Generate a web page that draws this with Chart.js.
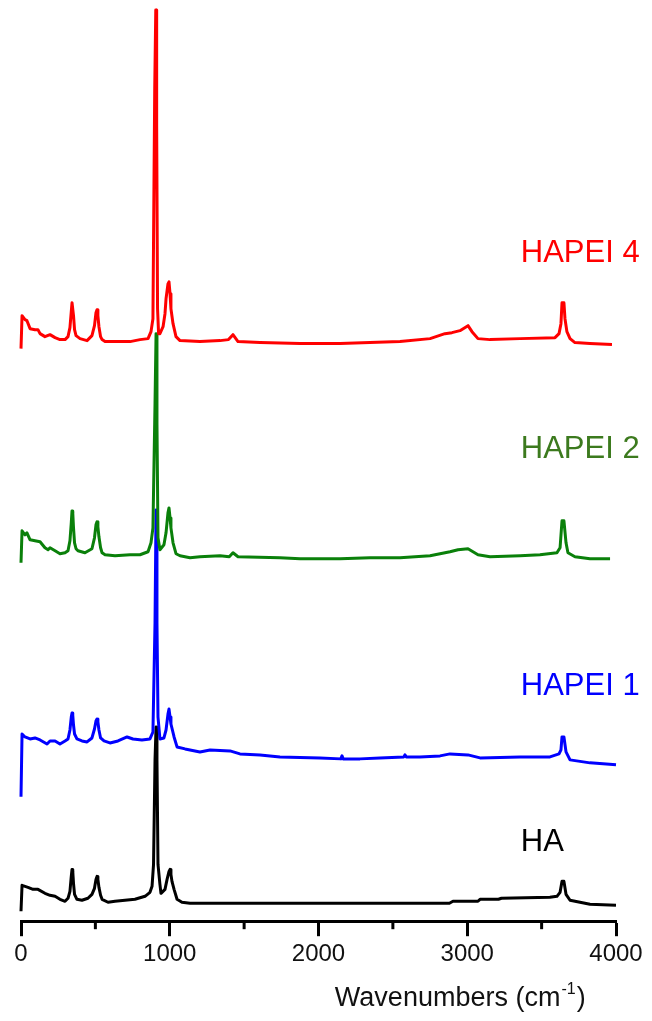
<!DOCTYPE html>
<html lang="en">
<head>
  <meta charset="UTF-8">
  <title>Raman spectra HA / HAPEI</title>
  <script src="https://cdn.jsdelivr.net/npm/chart.js"></script>
  <style>
    body {
      margin: 0;
      background: #fff;
    }
    #wrap {
      width: 652px;
      height: 1021px;
    }
  </style>
</head>
<body>
  <div id="wrap">
    <canvas id="ramanChart" width="652" height="1021"></canvas>
  </div>

  <script>
    // wavenumber (cm-1) / offset intensity
    const p4X = [0, 7, 27, 40, 61, 94, 114, 128, 161, 195,
      229, 262, 296, 316, 329, 338, 343, 348, 353, 360,
      370, 397, 444, 477, 494, 504, 511, 517, 524, 535,
      545, 565, 632, 733, 800, 854, 874, 887, 899, 906,
      910, 912, 918, 925, 934, 955, 968, 975, 988, 995,
      1002, 1008, 1022, 1042, 1069, 1203, 1338, 1395, 1425, 1459,
      1607, 1876, 2145, 2346, 2548, 2750, 2850, 2897, 2951, 3005,
      3032, 3072, 3153, 3355, 3590, 3617, 3630, 3637, 3650, 3657,
      3670, 3691, 3724, 3825, 3973];
    const p4Y = [575, 608, 604, 603, 595, 594, 594, 590, 587, 589,
      586, 584, 584, 587, 596, 612, 621, 621, 608, 594,
      588, 585, 583, 588, 598, 611, 614, 608, 597, 587,
      584, 582, 582, 582, 584, 585, 592, 605, 836, 915,
      915, 800, 615, 590, 590, 597, 610, 625, 640, 642,
      630, 615, 600, 587, 583, 582, 583, 584, 589, 582,
      581, 580, 580, 581, 582, 585, 590, 591, 593, 598,
      592, 585, 584, 585, 586, 590, 600, 621, 621, 605,
      592, 585, 581, 580, 579];

    const p2X = [0, 7, 27, 40, 61, 94, 128, 161, 182, 195,
      229, 262, 296, 316, 329, 338, 343, 348, 353, 360,
      370, 383, 430, 477, 494, 504, 511, 517, 524, 535,
      545, 565, 632, 733, 800, 854, 874, 887, 901, 908,
      914, 921, 934, 961, 975, 988, 995, 1002, 1008, 1022,
      1042, 1069, 1136, 1203, 1338, 1400, 1425, 1459, 1741, 1876,
      2145, 2346, 2548, 2750, 2817, 2884, 2938, 3005, 3072, 3153,
      3355, 3489, 3603, 3624, 3637, 3650, 3664, 3677, 3724, 3825,
      3960];
    const p2Y = [360, 392, 388, 390, 383, 382, 381, 375, 373, 375,
      372, 369, 370, 372, 382, 400, 412, 410, 395, 380,
      374, 372, 370, 374, 385, 398, 401, 396, 386, 375,
      370, 368, 367, 368, 368, 371, 380, 395, 520, 590,
      500, 385, 373, 378, 390, 410, 415, 405, 395, 380,
      369, 367, 365, 366, 367, 366, 370, 366, 365, 364,
      364, 365, 365, 367, 369, 371, 373, 374, 368, 366,
      367, 368, 370, 375, 402, 402, 380, 370, 366, 364,
      364];

    const p1X = [0, 7, 27, 61, 94, 128, 175, 195, 229, 262,
      296, 316, 329, 338, 343, 348, 353, 360, 376, 410,
      444, 477, 494, 504, 511, 517, 524, 535, 558, 598,
      652, 713, 753, 813, 867, 887, 901, 908, 914, 921,
      934, 961, 975, 988, 995, 1002, 1008, 1029, 1049, 1103,
      1203, 1271, 1405, 1472, 1607, 1741, 2010, 2150, 2158, 2166,
      2279, 2413, 2574, 2581, 2590, 2682, 2817, 2884, 3005, 3086,
      3355, 3556, 3617, 3630, 3637, 3650, 3664, 3691, 3825, 4000];
    const p1Y = [125, 188, 185, 183, 184, 182, 178, 181, 181, 178,
      181, 183, 192, 205, 209, 207, 197, 188, 183, 181,
      180, 184, 193, 201, 203, 200, 192, 184, 181, 179,
      181, 185, 183, 182, 183, 190, 300, 413, 300, 205,
      183, 184, 192, 208, 213, 205, 198, 185, 175, 173,
      170, 172, 171, 168, 167, 165, 164, 163, 166, 163,
      163, 164, 165, 167, 165, 165, 166, 168, 167, 164,
      165, 165, 168, 172, 185, 185, 170, 162, 159, 157];

    const haX = [0, 7, 27, 47, 81, 114, 161, 195, 229, 262,
      296, 316, 329, 338, 343, 348, 353, 360, 376, 410,
      450, 477, 494, 504, 511, 517, 524, 535, 545, 585,
      632, 699, 766, 834, 867, 881, 891, 901, 908, 914,
      921, 934, 941, 968, 982, 995, 1002, 1008, 1015, 1029,
      1049, 1082, 1136, 2880, 2904, 3072, 3086, 3210, 3230, 3556,
      3603, 3624, 3637, 3650, 3664, 3691, 3825, 4000];
    const haY = [10, 36, 35, 34, 32, 32, 28, 26, 25, 22,
      20, 23, 30, 45, 52, 50, 38, 27, 22, 21,
      23, 27, 33, 42, 45, 42, 34, 26, 22, 19,
      20, 21, 22, 25, 29, 35, 57, 162, 195, 162,
      57, 37, 28, 32, 42, 50, 52, 47, 40, 32,
      22, 19, 18, 18, 20, 20, 22, 22, 23, 24,
      25, 29, 40, 40, 27, 21, 17, 16];

    const seriesNames = ['HAPEI 4', 'HAPEI 2', 'HAPEI 1', 'HA'];
    const lineColors = ['#ff0000', '#0a800a', '#0000ff', '#000000'];
    const textColors = ['#ff0000', '#3c7a1e', '#0000ff', '#000000'];
    const labelX = [3360, 3360, 3360, 3360];
    const labelY = [662, 465, 227, 70];

    const xTicks = [0, 1000, 2000, 3000, 4000];
    const minorTicks = [500, 1500, 2500, 3500];

    const allX = [p4X, p2X, p1X, haX];
    const allY = [p4Y, p2Y, p1Y, haY];

    const FONT = '"Liberation Sans", Arial, sans-serif';

    // labels next to the traces, axis title, short minor ticks
    const extras = {
      id: 'extras',
      afterDraw(chart) {
        const ctx = chart.ctx;
        const xs = chart.scales.x;
        const ys = chart.scales.y;
        const area = chart.chartArea;
        ctx.save();

        ctx.strokeStyle = '#000';
        ctx.lineWidth = 3;
        minorTicks.forEach(v => {
          const px = xs.getPixelForValue(v);
          ctx.beginPath();
          ctx.moveTo(px, area.bottom);
          ctx.lineTo(px, area.bottom + 8);
          ctx.stroke();
        });

        ctx.font = '31px ' + FONT;
        ctx.textAlign = 'left';
        ctx.textBaseline = 'alphabetic';
        seriesNames.forEach((name, i) => {
          ctx.fillStyle = textColors[i];
          ctx.fillText(name, xs.getPixelForValue(labelX[i]), ys.getPixelForValue(labelY[i]));
        });

        // Wavenumbers (cm^-1)
        let tx = xs.getPixelForValue(2110);
        const ty = 1006;
        ctx.fillStyle = '#111';
        ctx.font = '27px ' + FONT;
        const part1 = 'Wavenumbers (cm';
        ctx.fillText(part1, tx, ty);
        tx += ctx.measureText(part1).width + 1;
        ctx.font = '16px ' + FONT;
        ctx.fillText('-1', tx, ty - 12);
        tx += ctx.measureText('-1').width + 1;
        ctx.font = '27px ' + FONT;
        ctx.fillText(')', tx, ty);

        ctx.restore();
      }
    };

    const ctx = document.getElementById('ramanChart').getContext('2d');
    const ramanChart = new Chart(ctx, {
      type: 'line',
      data: {
        datasets: seriesNames.map((name, i) => ({
          label: name,
          data: allX[i].map((x, j) => ({ x: x, y: allY[i][j] })),
          borderColor: lineColors[i],
          borderWidth: 3,
          borderJoinStyle: 'round',
          pointRadius: 0,
          tension: 0,
          fill: false,
          clip: false
        }))
      },
      options: {
        responsive: false,
        animation: false,
        layout: {
          padding: { left: 21, right: 36, top: 8, bottom: 48 }
        },
        plugins: {
          legend: { display: false },
          tooltip: { enabled: false },
          title: { display: false }
        },
        scales: {
          x: {
            type: 'linear',
            min: 0,
            max: 4000,
            afterBuildTicks: scale => {
              scale.ticks = xTicks.map(v => ({ value: v }));
            },
            border: { display: true, color: '#000', width: 3 },
            grid: {
              drawOnChartArea: false,
              drawTicks: true,
              tickLength: 15,
              tickWidth: 3,
              tickColor: '#000'
            },
            ticks: {
              color: '#111',
              padding: 4,
              maxRotation: 0,
              font: { family: FONT, size: 24 },
              callback: value => String(value)
            }
          },
          y: {
            display: false,
            min: 0,
            max: 917
          }
        }
      },
      plugins: [extras]
    });
  </script>
</body>
</html>
